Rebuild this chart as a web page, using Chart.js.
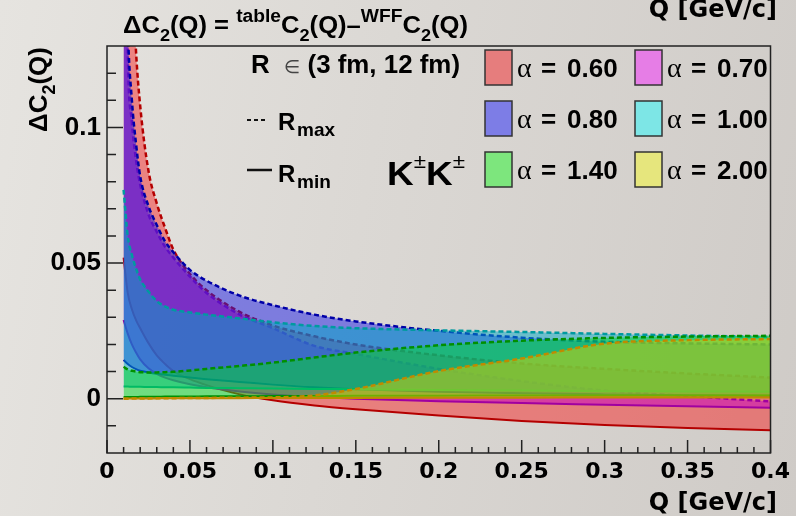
<!DOCTYPE html>
<html>
<head>
<meta charset="utf-8">
<script src="https://cdn.jsdelivr.net/npm/chart.js@4.4.0/dist/chart.umd.min.js"></script>
<style>
  html, body { margin: 0; padding: 0; }
  body {
    width: 796px; height: 516px; overflow: hidden;
    background: linear-gradient(100deg, #e6e4e0 0%, #dbd8d4 45%, #cfcbc7 100%);
  }
</style>
</head>
<body>
<canvas id="dc2Chart" width="796" height="516"></canvas>
<script>
// Q grid [GeV/c] and Delta C2 values
const q = [0.01, 0.0125, 0.015, 0.0175, 0.02, 0.025, 0.03, 0.035, 0.04, 0.05,
           0.06, 0.08, 0.1, 0.125, 0.15, 0.2, 0.25, 0.3, 0.35, 0.4];

const rMax060 = [0.30, 0.215, 0.163, 0.128, 0.108, 0.084, 0.072, 0.063, 0.055, 0.046,
                 0.040, 0.032, 0.027, 0.023, 0.020, 0.016, 0.013, 0.011, 0.0093, 0.0078];
const rMin060 = [0.052, 0.039, 0.033, 0.029, 0.026, 0.0205, 0.016, 0.0128, 0.0102, 0.0072,
                 0.005, 0.0016, -0.0006, -0.0025, -0.0039, -0.0062, -0.0082, -0.0097, -0.0108, -0.0116];

const rMax070 = [0.25, 0.128, 0.102, 0.088, 0.079, 0.068, 0.0615, 0.056, 0.052, 0.045,
                 0.039, 0.031, 0.026, 0.0195, 0.0165, 0.011, 0.0065, 0.003, 0.001, -0.001];
const rMin070 = [0.029, 0.024, 0.020, 0.017, 0.0145, 0.0112, 0.0092, 0.0078, 0.0068, 0.0053,
                 0.0042, 0.0027, 0.0016, 0.0006, 0.0, -0.0009, -0.0016, -0.0022, -0.0028, -0.0033];

const rMax080 = [0.22, 0.138, 0.110, 0.094, 0.082, 0.071, 0.064, 0.058, 0.054, 0.0475,
                 0.0435, 0.038, 0.0345, 0.031, 0.0285, 0.025, 0.0225, 0.021, 0.0204, 0.020];
const rMin080 = [0.0143, 0.0128, 0.0117, 0.0109, 0.0103, 0.0097, 0.0092, 0.0088, 0.0085, 0.0078,
                 0.0072, 0.0062, 0.0052, 0.0042, 0.0035, 0.0026, 0.002, 0.0016, 0.0013, 0.0011];

const rMax100 = [0.077, 0.060, 0.053, 0.048, 0.044, 0.0395, 0.036, 0.034, 0.0328, 0.0318,
                 0.031, 0.0296, 0.0282, 0.0268, 0.026, 0.0252, 0.0246, 0.0239, 0.0233, 0.0228];
const rMin100 = [0.0045, 0.0045, 0.0044, 0.0044, 0.0044, 0.0043, 0.0043, 0.0042, 0.0042, 0.0041,
                 0.004, 0.0039, 0.0038, 0.0036, 0.0035, 0.0032, 0.003, 0.0028, 0.0027, 0.0026];

const rMax140 = [0.0118, 0.0108, 0.0103, 0.0100, 0.0098, 0.0097, 0.0097, 0.0098, 0.0099, 0.0104,
                 0.011, 0.0121, 0.0133, 0.0152, 0.017, 0.0197, 0.0214, 0.0224, 0.0229, 0.0232];
const rMin140 = [0.0006, 0.0006, 0.0006, 0.0006, 0.0007, 0.0007, 0.0007, 0.0008, 0.0008, 0.0008,
                 0.0009, 0.0009, 0.001, 0.001, 0.0011, 0.0011, 0.0012, 0.0012, 0.0012, 0.0012];

const rMax200 = [0.0, 0.0, 0.0001, 0.0001, 0.0001, 0.0001, 0.0002, 0.0002, 0.0002, 0.0003,
                 0.0003, 0.0004, 0.0005, 0.0012, 0.0036, 0.0102, 0.0148, 0.0203, 0.0216, 0.022];
const rMin200 = [0.0001, 0.0001, 0.0001, 0.0001, 0.0001, 0.0001, 0.0001, 0.0002, 0.0002, 0.0002,
                 0.0002, 0.0002, 0.0003, 0.0003, 0.0003, 0.0004, 0.0004, 0.0005, 0.0005, 0.0005];

const alphaLabels = ["0.60", "0.70", "0.80", "1.00", "1.40", "2.00"];
const rMaxSeries = [rMax060, rMax070, rMax080, rMax100, rMax140, rMax200];
const rMinSeries = [rMin060, rMin070, rMin080, rMin100, rMin140, rMin200];

const xTicks = [0, 0.05, 0.1, 0.15, 0.2, 0.25, 0.3, 0.35, 0.4];
const yTicks = [0, 0.05, 0.1];

// band fills (tuned so the overlaps look like the original) and legend swatches
const fillColors = [
  "rgba(245, 40, 40, 0.5)",
  "rgba(200, 0, 200, 0.5)",
  "rgba(30, 30, 230, 0.5)",
  "rgba(0, 170, 200, 0.5)",
  "rgba(0, 220, 40, 0.5)",
  "rgba(220, 210, 0, 0.5)"
];
const swatchColors = ["#e67d7d", "#e67de6", "#7d7de6", "#7de6e6", "#7de67d", "#e6e67d"];
const lineColors = ["#b40000", "#a000a0", "#0000a8", "#009aa0", "#009000", "#c08a00"];

function toPoints(values) {
  return values.map((v, i) => ({ x: q[i], y: v }));
}

const datasets = [];
alphaLabels.forEach((a, i) => {
  // R_max band edge, filled down to the R_min curve that follows it
  datasets.push({
    label: "alpha = " + a + " Rmax",
    data: toPoints(rMaxSeries[i]),
    borderColor: lineColors[i],
    borderWidth: 2.5,
    borderDash: [5, 3],
    backgroundColor: fillColors[i],
    fill: "+1",
    order: 20 - 2 * i
  });
  datasets.push({
    label: "alpha = " + a + " Rmin",
    data: toPoints(rMinSeries[i]),
    borderColor: lineColors[i],
    borderWidth: 2,
    fill: false,
    order: 19 - 2 * i
  });
});

const SANS = "Liberation Sans";

function put(ctx, s, x, y, font, color, align) {
  ctx.font = font;
  ctx.fillStyle = color || "#000";
  ctx.textAlign = align || "left";
  ctx.textBaseline = "alphabetic";
  ctx.fillText(s, x, y);
}

// lay out pieces of text one after another, stretched to a given width
function drawRich(ctx, parts, x, y, width) {
  let total = 0;
  parts.forEach(p => { ctx.font = p.f; total += ctx.measureText(p.t).width; });
  ctx.save();
  ctx.translate(x, y);
  ctx.scale(width / total, 1);
  let cx = 0;
  parts.forEach(p => {
    put(ctx, p.t, cx, p.dy || 0, p.f, p.c);
    ctx.font = p.f;
    cx += ctx.measureText(p.t).width;
  });
  ctx.restore();
}

// frame and inner ROOT-style ticks
const framePlugin = {
  id: "frame",
  afterDatasetsDraw(chart) {
    const ctx = chart.ctx;
    const a = chart.chartArea;
    const xs = chart.scales.x;
    const ys = chart.scales.y;
    ctx.save();
    ctx.strokeStyle = "#222";
    ctx.lineWidth = 1.5;
    ctx.strokeRect(a.left, a.top, a.right - a.left, a.bottom - a.top);
    ctx.beginPath();
    for (let i = 0; i <= 40; i++) {
      const px = xs.getPixelForValue(i / 100);
      const len = i % 5 === 0 ? 13 : 6;
      ctx.moveTo(px, a.bottom);
      ctx.lineTo(px, a.bottom - len);
    }
    for (let i = -1; i <= 12; i++) {
      const py = ys.getPixelForValue(i / 100);
      const len = i % 5 === 0 ? 16 : 9;
      ctx.moveTo(a.left, py);
      ctx.lineTo(a.left + len, py);
    }
    ctx.stroke();
    ctx.restore();
  },
  afterDraw(chart) {
    const ctx = chart.ctx;
    ctx.save();

    // title
    const big = "bold 24px " + SANS;
    const sup = "bold 18px " + SANS;
    const sub = "bold 17px " + SANS;
    drawRich(ctx, [
      { t: "\u0394C", f: big }, { t: "2", f: sub, dy: 8 }, { t: "(Q) = ", f: big },
      { t: "table", f: sup, dy: -11 }, { t: "C", f: big }, { t: "2", f: sub, dy: 8 },
      { t: "(Q)\u2013", f: big }, { t: "WFF", f: sup, dy: -11 }, { t: "C", f: big },
      { t: "2", f: sub, dy: 8 }, { t: "(Q)", f: big }
    ], 123, 33, 345);

    // axis titles
    put(ctx, "Q [GeV/c]", 777, 17, "bold 24px DejaVu Sans", "#000", "right");
    put(ctx, "Q [GeV/c]", 777, 510, "bold 24px DejaVu Sans", "#000", "right");

    ctx.save();
    const yFont = "bold 26px " + SANS;
    const ySub = "bold 18px " + SANS;
    const parts = [["\u0394", yFont, 0], ["C", yFont, 0], ["2", ySub, 8], ["(Q)", yFont, 0]];
    let total = 0;
    parts.forEach(p => { ctx.font = p[1]; total += ctx.measureText(p[0]).width; });
    ctx.translate(47, 47 + total);
    ctx.rotate(-Math.PI / 2);
    let cx = 0;
    parts.forEach(p => {
      put(ctx, p[0], cx, p[2], p[1]);
      ctx.font = p[1];
      cx += ctx.measureText(p[0]).width;
    });
    ctx.restore();

    // R range note
    drawRich(ctx, [
      { t: "R  ", f: "bold 25px " + SANS },
      { t: "\u2208", f: "18px DejaVu Sans", c: "#444" },
      { t: " (3 fm, 12 fm)", f: "bold 25px " + SANS }
    ], 251, 73, 209);

    // line style key
    ctx.strokeStyle = "#111";
    ctx.lineWidth = 2;
    ctx.setLineDash([4, 3]);
    ctx.beginPath();
    ctx.moveTo(247, 120);
    ctx.lineTo(265, 120);
    ctx.stroke();
    ctx.setLineDash([]);
    ctx.lineWidth = 2.5;
    ctx.beginPath();
    ctx.moveTo(247, 170);
    ctx.lineTo(272, 170);
    ctx.stroke();
    put(ctx, "R", 278, 130, "bold 24px " + SANS);
    put(ctx, "max", 297, 136, "bold 19px " + SANS);
    put(ctx, "R", 278, 182, "bold 24px " + SANS);
    put(ctx, "min", 297, 188, "bold 19px " + SANS);

    // K+-K+-
    drawRich(ctx, [
      { t: "K", f: "bold 33px " + SANS }, { t: "\u00b1", f: "20px " + SANS, dy: -17 },
      { t: "K", f: "bold 33px " + SANS }, { t: "\u00b1", f: "20px " + SANS, dy: -17 }
    ], 387, 185, 78);

    // legend
    const colX = [485, 635];
    const rowY = [50, 101, 152];
    alphaLabels.forEach((a, i) => {
      const x = colX[i % 2];
      const y = rowY[Math.floor(i / 2)];
      ctx.fillStyle = swatchColors[i];
      ctx.fillRect(x, y, 27, 35);
      ctx.strokeStyle = "#333";
      ctx.lineWidth = 1.5;
      ctx.strokeRect(x, y, 27, 35);
      const base = y + 27;
      put(ctx, "\u03b1", x + 32, base, "28px Liberation Serif");
      put(ctx, "=", x + 56, base, "bold 26px " + SANS);
      put(ctx, a, x + 82, base, "bold 26px " + SANS);
    });

    ctx.restore();
  }
};

new Chart(document.getElementById("dc2Chart").getContext("2d"), {
  type: "line",
  data: { datasets: datasets },
  options: {
    responsive: false,
    animation: false,
    layout: { padding: { left: 0, right: 20, top: 46, bottom: 0 } },
    elements: {
      point: { radius: 0 },
      line: { cubicInterpolationMode: "monotone" }
    },
    datasets: { line: { clip: 0 } },
    plugins: {
      legend: { display: false },
      tooltip: { enabled: false },
      filler: { propagate: false }
    },
    scales: {
      x: {
        type: "linear",
        min: 0,
        max: 0.4,
        grid: { display: false, drawTicks: false },
        border: { display: false },
        afterFit: s => { s.height = 63; },
        afterBuildTicks: s => { s.ticks = xTicks.map(v => ({ value: v })); },
        ticks: {
          autoSkip: false,
          maxRotation: 0,
          padding: 6,
          color: "#000",
          font: { family: "DejaVu Sans", size: 22, weight: "bold" },
          callback: v => String(+v.toFixed(2))
        }
      },
      y: {
        min: -0.02,
        max: 0.13,
        grid: { display: false, drawTicks: false },
        border: { display: false },
        afterFit: s => { s.width = 107; },
        afterBuildTicks: s => { s.ticks = yTicks.map(v => ({ value: v })); },
        ticks: {
          padding: 6,
          color: "#000",
          font: { family: SANS, size: 26, weight: "bold" },
          callback: v => String(+v.toFixed(2))
        }
      }
    }
  },
  plugins: [framePlugin]
});
</script>
</body>
</html>
